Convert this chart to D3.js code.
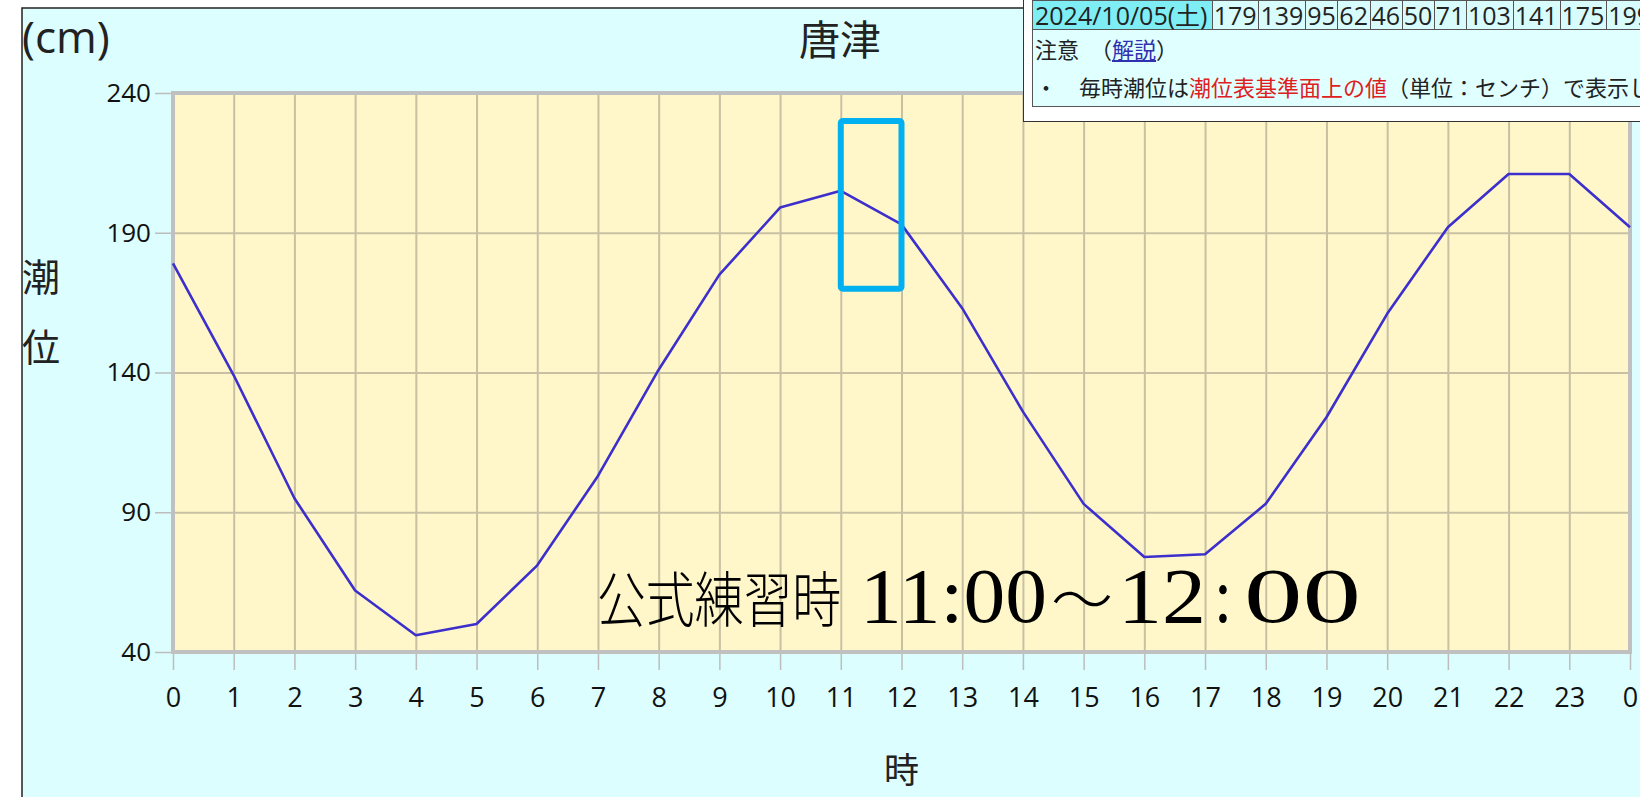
<!DOCTYPE html>
<html>
<head>
<meta charset="utf-8">
<script src="https://cdn.jsdelivr.net/npm/d3@7"></script>
<style>
  body { margin: 0; background: #fff; font-family: "Open Sans", "Noto Sans CJK JP", sans-serif; }
  #wrap { position: relative; width: 1640px; height: 797px; overflow: hidden; }
  svg { position: absolute; left: 0; top: 0; }
  .tidebox {
    position: absolute; left: 1023px; top: -2px; width: 1000px; height: 124px;
    background: #fff; border: 1.5px solid #333; box-sizing: border-box;
  }
  .tidebox table { position: absolute; left: 8px; top: 1px; border-collapse: collapse; color: #222; white-space: nowrap; }
  .tidebox td { border: 1px solid #555; padding: 0 1px; height: 28px; font-size: 25px; line-height: 28px; background: #d8fbfb; }
  .tidebox td.date { background: #7eeef4; padding-left: 2px; }
  .tidebox td.note { background: #e0ffff; font-size: 22px; line-height: 38px; height: 74px; vertical-align: top; padding: 0 2px; }
  .tidebox a { color: #3030b0; text-decoration: underline; }
  .red { color: #e02020; }
</style>
</head>
<body>
<div id="wrap"></div>
<script>
// Tide data (唐津 2024/10/05)
const hours = [0, 1, 2, 3, 4, 5, 6, 7, 8, 9, 10, 11, 12, 13, 14, 15, 16, 17, 18, 19, 20, 21, 22, 23, 24];
const hourLabels = ["0", "1", "2", "3", "4", "5", "6", "7", "8", "9", "10", "11", "12", "13", "14", "15", "16", "17", "18", "19", "20", "21", "22", "23", "0"];
const tide = [179, 139, 95, 62, 46, 50, 71, 103, 141, 175, 199, 205, 193, 163, 126, 93, 74, 75, 93, 124, 161, 192, 211, 211, 192];
const yTicks = [40, 90, 140, 190, 240];
const practiceHours = [11, 12];
const practiceLevel = [170, 230];
const tableDate = "2024/10/05(土)";
const tableShown = 11; // hourly cells visible in the cropped table

const width = 1640;
const height = 797;
const plot = { left: 173, right: 1630, top: 93, bottom: 652 };

const wrap = d3.select("#wrap");
const svg = wrap.append("svg").attr("width", width).attr("height", height);

// Panel background
svg.append("rect")
  .attr("x", 22).attr("y", 8)
  .attr("width", width).attr("height", height)
  .attr("fill", "#dcfefe")
  .attr("stroke", "#222")
  .attr("stroke-width", 1.5);

const x = d3.scaleLinear().domain([0, 24]).range([plot.left, plot.right]);
const y = d3.scaleLinear().domain([40, 240]).range([plot.bottom, plot.top]);

// Plot area
svg.append("rect")
  .attr("x", x(0)).attr("y", y(240))
  .attr("width", x(24) - x(0)).attr("height", y(40) - y(240))
  .attr("fill", "#fff7ca");

// Grid lines
svg.append("g")
  .attr("transform", `translate(0, ${plot.bottom})`)
  .call(d3.axisBottom(x).tickValues(hours).tickSize(-(plot.bottom - plot.top)).tickFormat(""))
  .call((g) => g.select(".domain").remove())
  .selectAll("line").attr("stroke", "#c8c0a2").attr("stroke-width", 2);

svg.append("g")
  .attr("transform", `translate(${plot.left}, 0)`)
  .call(d3.axisLeft(y).tickValues(yTicks).tickSize(-(plot.right - plot.left)).tickFormat(""))
  .call((g) => g.select(".domain").remove())
  .selectAll("line").attr("stroke", "#c8c0a2").attr("stroke-width", 2);

// Frame
svg.append("rect")
  .attr("x", x(0)).attr("y", y(240))
  .attr("width", x(24) - x(0)).attr("height", y(40) - y(240))
  .attr("fill", "none")
  .attr("stroke", "#c0c0c0")
  .attr("stroke-width", 4);

// Axes with tick marks and labels
const yAxis = svg.append("g")
  .attr("transform", `translate(${plot.left - 2}, 0)`)
  .call(d3.axisLeft(y).tickValues(yTicks).tickSize(16).tickPadding(4));
yAxis.select(".domain").remove();
yAxis.selectAll("line").attr("stroke", "#bdbdbd").attr("stroke-width", 1.5);
yAxis.selectAll("text")
  .attr("fill", "#111")
  .style("font-size", "26px")
  .style("font-family", "Open Sans, sans-serif");

const xAxis = svg.append("g")
  .attr("transform", `translate(0, ${plot.bottom + 2})`)
  .call(d3.axisBottom(x).tickValues(hours).tickSize(16).tickPadding(18).tickFormat((d, i) => hourLabels[i]));
xAxis.select(".domain").remove();
xAxis.selectAll("line").attr("stroke", "#bdbdbd").attr("stroke-width", 1.5);
xAxis.selectAll("text")
  .attr("fill", "#111")
  .style("font-size", "27px")
  .style("font-family", "Open Sans, sans-serif");

// Tide line
const line = d3.line()
  .x((d, i) => x(hours[i]))
  .y((d) => y(d));

svg.append("path")
  .datum(tide)
  .attr("d", line)
  .attr("fill", "none")
  .attr("stroke", "#3c2fcc")
  .attr("stroke-width", 2.6)
  .attr("stroke-linejoin", "round");

// Practice time highlight
svg.append("rect")
  .attr("x", x(practiceHours[0]))
  .attr("y", y(practiceLevel[1]))
  .attr("width", x(practiceHours[1]) - x(practiceHours[0]))
  .attr("height", y(practiceLevel[0]) - y(practiceLevel[1]))
  .attr("rx", 2)
  .attr("fill", "none")
  .attr("stroke", "#00b0f0")
  .attr("stroke-width", 6);

// Texts
const cjk = "'Noto Sans CJK JP', sans-serif";
const serif = "'Liberation Serif', serif";

svg.append("text")
  .attr("x", 840).attr("y", 55)
  .attr("text-anchor", "middle")
  .style("font-family", cjk)
  .style("font-size", "41px")
  .attr("fill", "#222")
  .text("唐津");

svg.append("text")
  .attr("x", 22).attr("y", 53)
  .style("font-family", "Open Sans, sans-serif")
  .style("font-size", "44px")
  .attr("fill", "#222")
  .text("(cm)");

svg.selectAll(".ylab")
  .data(["潮", "位"])
  .enter()
  .append("text")
  .attr("x", 22)
  .attr("y", (d, i) => 291 + i * 70)
  .style("font-family", cjk)
  .style("font-size", "38px")
  .attr("fill", "#222")
  .text((d) => d);

svg.append("text")
  .attr("x", x(12)).attr("y", 783)
  .attr("text-anchor", "middle")
  .style("font-family", cjk)
  .style("font-size", "35px")
  .attr("fill", "#222")
  .text("時");

// Annotation: each piece stretched to the width it takes in the picture
const noteParts = [
  { text: "公式練習時", x0: 597, w: 244, font: cjk, size: 60, weight: 300 },
  { text: "11:00", x0: 860, w: 187, font: serif, size: 78, weight: 400 },
  { text: "～", x0: 1051, w: 62, font: cjk, size: 60, weight: 300 },
  { text: "12", x0: 1118, w: 88, font: serif, size: 78, weight: 400 },
  { text: ":", x0: 1214, w: 18, font: serif, size: 78, weight: 400 },
  { text: "00", x0: 1244, w: 117, font: serif, size: 78, weight: 400 },
];
svg.selectAll(".note")
  .data(noteParts)
  .enter()
  .append("text")
  .attr("x", (d) => d.x0)
  .attr("y", 622)
  .attr("textLength", (d) => d.w)
  .attr("lengthAdjust", "spacingAndGlyphs")
  .style("font-family", (d) => d.font)
  .style("font-size", (d) => d.size + "px")
  .style("font-weight", (d) => d.weight)
  .attr("fill", "#000")
  .text((d) => d.text);

// Hourly table overlay
const box = wrap.append("div").attr("class", "tidebox");
const table = box.append("table");
const row1 = table.append("tr");
row1.append("td").attr("class", "date").text(tableDate);
row1.selectAll("td.v")
  .data(tide.slice(0, tableShown))
  .enter()
  .append("td")
  .attr("class", "v")
  .text((d) => d);

const noteCell = table.append("tr").append("td")
  .attr("class", "note")
  .attr("colspan", tableShown + 1);
noteCell.append("div").html('注意　（<a>解説</a>）');
noteCell.append("div").html('・　毎時潮位は<span class="red">潮位表基準面上の値</span>（単位：センチ）で表示し');
</script>
</body>
</html>
